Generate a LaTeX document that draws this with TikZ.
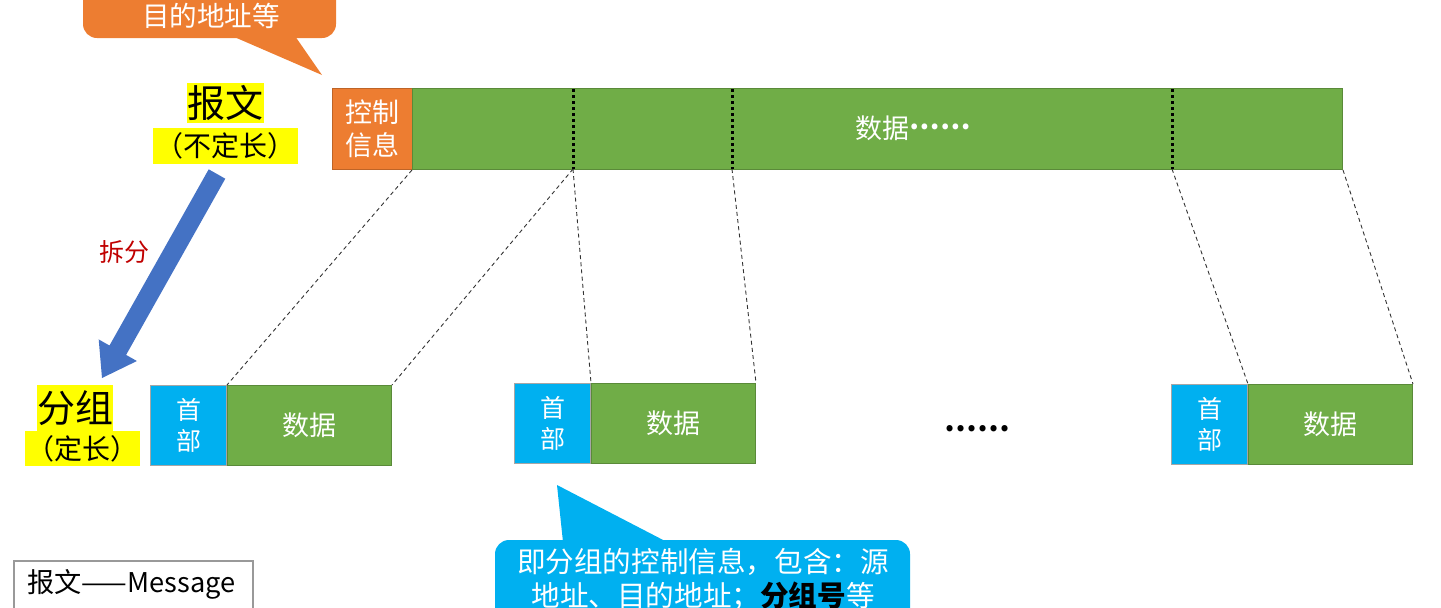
\documentclass[tikz,border=0pt]{standalone}
\usepackage{fontspec}
\setmainfont{Noto Sans CJK SC}
\definecolor{corange}{HTML}{ED7D31}
\definecolor{cgreen}{HTML}{70AD47}
\definecolor{cblue}{HTML}{00B0F0}
\definecolor{carrow}{HTML}{4472C4}
\definecolor{cred}{HTML}{C00000}
\definecolor{hlyellow}{HTML}{FFFF00}
\newcommand{\midellipsis}{\raisebox{0.32em}{\bfseries ……}}
\tikzset{
  hdr/.style={draw=gray!70, line width=0.5pt, fill=cblue, text=white, minimum width=38pt, minimum height=40pt, inner sep=0pt, anchor=north west, align=center, font=\fontsize{12.5}{15.5}\selectfont},
  dat/.style={draw=cgreen!80!black, line width=0.5pt, fill=cgreen, text=white, minimum width=82pt, minimum height=40pt, inner sep=0pt, anchor=north west, font=\fontsize{13.5}{16}\selectfont},
  conn/.style={line width=0.45pt, black!80, dash pattern=on 2pt off 1.6pt},
  sepline/.style={line width=1.5pt, black, dash pattern=on 1.5pt off 1.5pt},
  hl/.style={fill=hlyellow, inner sep=0pt, text=black},
}
\begin{document}
\begin{tikzpicture}[x=0.5pt,y=-0.5pt]
\useasboundingbox (0,0) rectangle (1441,607);
\clip (0,0) rectangle (1441,607);
% top callout
\fill[corange] (232,36) -- (322,75) -- (295,36) -- cycle;
\fill[corange, rounded corners=7pt] (83,-40) rectangle (336,38);
\node[text=white, font=\fontsize{13.8}{16}\selectfont] (tctext) at (211,16) {目的地址等};
% top bar
\node[draw=corange!80!black, line width=0.5pt, fill=corange, text=white, minimum width=40pt, minimum height=40.5pt, inner sep=0pt, anchor=north west, align=center, font=\fontsize{13.5}{16.5}\selectfont] (ctrl) at (332,88) {控制\\信息};
\node[draw=cgreen!80!black, line width=0.5pt, fill=cgreen, minimum width=465pt, minimum height=40.5pt, inner sep=0pt, anchor=north west] (bar) at (412,88) {};
\node[text=white, font=\fontsize{13.5}{16}\selectfont] (bartxt) at (913,128) {数据\midellipsis};
\coordinate (s1t) at (573,89);
\coordinate (s1b) at (573,169);
\coordinate (s2t) at (732,89);
\coordinate (s2b) at (732,169);
\coordinate (s3t) at (1172,89);
\coordinate (s3b) at (1172,169);
\draw[sepline] (s1t) -- (s1b);
\draw[sepline] (s2t) -- (s2b);
\draw[sepline] (s3t) -- (s3b);
% packets
\node[hdr] (p1h) at (150,385) {首\\部};
\node[dat] (p1d) at (p1h.north east) {数据};
\node[hdr] (p2h) at (514,383) {首\\部};
\node[dat] (p2d) at (p2h.north east) {数据};
\node[hdr] (p3h) at (1171,384) {首\\部};
\node[dat] (p3d) at (p3h.north east) {数据};
\node[font=\fontsize{14.5}{16}\selectfont] (pdots) at (977,433) {\midellipsis};
% connectors
\draw[conn] (bar.south west) -- (p1d.north west);
\draw[conn] (s1b) -- (p1d.north east);
\draw[conn] (s1b) -- (p2d.north west);
\draw[conn] (s2b) -- (p2d.north east);
\draw[conn] (s3b) -- (p3d.north west);
\draw[conn] (bar.south east) -- (p3d.north east);
% labels
\node[hl, minimum width=38.5pt, minimum height=20pt, font=\fontsize{19}{19}\selectfont] (msg) at (225.5,103) {报文};
\node[hl, minimum width=72.5pt, minimum height=18pt, font=\fontsize{14}{14}\selectfont] (msgnote) at (225.5,146) {（不定长）};
\node[hl, minimum width=38pt, minimum height=23pt, font=\fontsize{19}{19}\selectfont] (pkt) at (75,408) {分组};
\node[hl, minimum width=57.5pt, minimum height=17.5pt, font=\fontsize{14}{14}\selectfont] (pktnote) at (82.5,448.5) {（定长）};
% split arrow
\fill[carrow] (208.7,169.3) -- (225.3,178.7) -- (126.1,354.9) -- (136.9,361.0) -- (102,378) -- (98.7,339.4) -- (109.5,345.5) -- cycle;
\node[text=cred, font=\fontsize{12.5}{14}\selectfont] (split) at (124,252) {拆分};
% bottom callout
\fill[cblue] (563,542) -- (557,485) -- (667,542) -- cycle;
\fill[cblue, rounded corners=7pt] (495,540) rectangle (910,680);
\node[text=white, align=center, font=\fontsize{14.3}{17}\selectfont] (note) at (703,580) {即分组的控制信息，包含：源\\地址、目的地址；{\color{black}\bfseries 分组号}等};
% legend box
\draw[gray!80, line width=0.6pt] (14,561) rectangle (253,660);
\node[anchor=west, font=\fontsize{13.6}{15}\selectfont, inner sep=0pt] (legend) at (27,584) {报文——Message};
\end{tikzpicture}
\end{document}
